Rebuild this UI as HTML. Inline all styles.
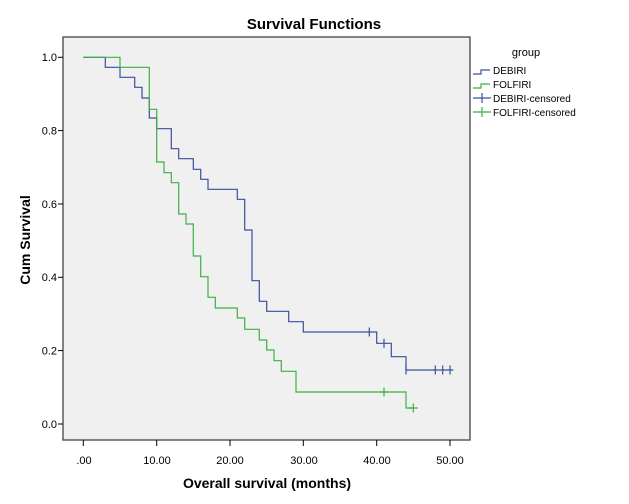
<!DOCTYPE html>
<html><head><style>
body{margin:0;background:#fff;}
svg{display:block;font-family:"Liberation Sans",Arial,sans-serif;}
</style></head><body>
<svg width="629" height="504" viewBox="0 0 629 504">
<rect x="0" y="0" width="629" height="504" fill="#fff"/>
<text x="314" y="29" font-size="15" font-weight="bold" text-anchor="middle" fill="#000">Survival Functions</text>
<rect x="63" y="37" width="407" height="403" fill="#f0f0f0" stroke="#444" stroke-width="1.3"/>
<g stroke="#000" stroke-width="1">
<line x1="58" y1="57.3" x2="63" y2="57.3"/><line x1="58" y1="130.6" x2="63" y2="130.6"/>
<line x1="58" y1="204" x2="63" y2="204"/><line x1="58" y1="277.3" x2="63" y2="277.3"/>
<line x1="58" y1="350.6" x2="63" y2="350.6"/><line x1="58" y1="424" x2="63" y2="424"/>
<line x1="83.3" y1="440" x2="83.3" y2="446"/><line x1="156.7" y1="440" x2="156.7" y2="446"/>
<line x1="230" y1="440" x2="230" y2="446"/><line x1="303.3" y1="440" x2="303.3" y2="446"/>
<line x1="376.7" y1="440" x2="376.7" y2="446"/><line x1="450" y1="440" x2="450" y2="446"/>
</g>
<g font-size="11" fill="#000" text-anchor="end">
<text x="57" y="61">1.0</text><text x="57" y="134.5">0.8</text><text x="57" y="208">0.6</text>
<text x="57" y="281">0.4</text><text x="57" y="354.5">0.2</text><text x="57" y="428">0.0</text>
</g>
<g font-size="11" fill="#000" text-anchor="middle">
<text x="84" y="464">.00</text><text x="157" y="464">10.00</text><text x="230" y="464">20.00</text>
<text x="304" y="464">30.00</text><text x="377" y="464">40.00</text><text x="450" y="464">50.00</text>
</g>
<text x="267" y="488" font-size="14" font-weight="bold" text-anchor="middle">Overall survival (months)</text>
<text transform="translate(30,240) rotate(-90)" font-size="14" font-weight="bold" text-anchor="middle">Cum Survival</text>
<path fill="none" stroke="#3a4fa0" stroke-width="1.2" d="M83.3,57.3 H105.3 V67.3 H120 V77.3 H134.7 V87.3 H142 V98 H149.3 V118 H156.7 V128.7 H171.3 V148.7 H178.7 V158.7 H193.3 V169.3 H200.7 V179.3 H208 V189.3 H237.3 V199.3 H244.7 V230 H252 V280.7 H259.3 V301.3 H266.7 V311.3 H288.7 V321.7 H303.3 V332 H376.7 V343.3 H391.3 V356.7 H406 V370 H453.3"/>
<path fill="none" stroke="#3cb043" stroke-width="1.2" d="M83.3,57.3 H120 V67.3 H149.3 V109.3 H156.7 V162 H164 V172.7 H171.3 V182.7 H178.7 V214 H186 V224 H193.3 V256 H200.7 V276.7 H208 V297.3 H215.3 V308 H237.3 V318 H244.7 V329.3 H259.3 V340 H266.7 V350 H274 V360.7 H281.3 V371.3 H296 V392 H406 V408 H413.3"/>
<g stroke="#3a4fa0" stroke-width="1.2">
<path d="M369.3,327.5 v9 M384,338.8 v9 M406,365.5 v9 M435.3,365.5 v9 M442.7,365.5 v9 M450,365.5 v9"/>
</g>
<g stroke="#3cb043" stroke-width="1.2">
<path d="M384,387.5 v9 M379.5,392 h9 M413.3,403.5 v9 M408.8,408 h9"/>
</g>
<text x="526" y="56" font-size="11" text-anchor="middle">group</text>
<path d="M473,74 h8 v-4 h9" fill="none" stroke="#3a4fa0" stroke-width="1.2"/>
<text x="493" y="74" font-size="10">DEBIRI</text>
<path d="M473,88 h8 v-4 h9" fill="none" stroke="#3cb043" stroke-width="1.2"/>
<text x="493" y="88" font-size="10">FOLFIRI</text>
<path d="M473,98 h18 M482,93 v10" stroke="#3a4fa0" stroke-width="1.2"/>
<text x="493" y="102" font-size="10">DEBIRI-censored</text>
<path d="M473,112 h18 M482,107 v10" stroke="#3cb043" stroke-width="1.2"/>
<text x="493" y="116" font-size="10">FOLFIRI-censored</text>
</svg>
</body></html>
